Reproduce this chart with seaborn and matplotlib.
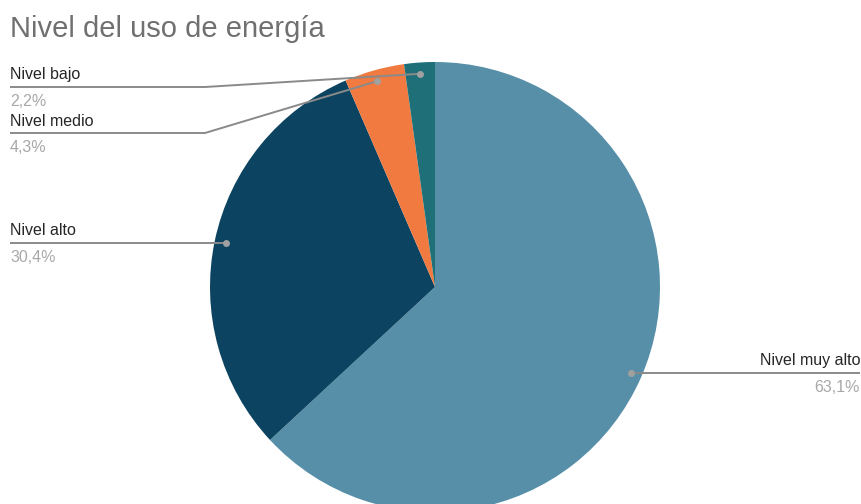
import numpy as np
import matplotlib
matplotlib.use("Agg")
import matplotlib.pyplot as plt
import seaborn as sns

# datos
niveles = ["Nivel muy alto", "Nivel alto", "Nivel medio", "Nivel bajo"]
porcentajes = [63.1, 30.4, 4.3, 2.2]
etiquetas_pct = ["63,1%", "30,4%", "4,3%", "2,2%"]
colores = ["#578fa9", "#0c4360", "#f07a40", "#1e6f78"]

sns.set_theme(style="white")
plt.rcParams["font.family"] = ["Liberation Sans", "DejaVu Sans"]

W, H = 861, 504
fig = plt.figure(figsize=(W / 100, H / 100), dpi=100)
ax = fig.add_axes([0, 0, 1, 1])

cx, cy, rad = 435, H - 287, 225
wedges, _ = ax.pie(porcentajes, colors=sns.color_palette(colores), startangle=90,
                   counterclock=False, center=(cx, cy), radius=rad,
                   wedgeprops=dict(linewidth=0))
ax.set_xlim(0, W)
ax.set_ylim(0, H)
ax.set_aspect("equal")
ax.axis("off")

# posiciones de las etiquetas (x del texto, y de la linea en px desde arriba, codo)
# yl=None -> linea horizontal a la altura del punto
layout = {
    "Nivel muy alto": dict(xt=860, yl=None, ha="right", codo=None),
    "Nivel alto": dict(xt=10, yl=None, ha="left", codo=None),
    "Nivel medio": dict(xt=10, yl=133, ha="left", codo=205),
    "Nivel bajo": dict(xt=10, yl=87, ha="left", codo=205),
}

for w, nombre, pct in zip(wedges, niveles, etiquetas_pct):
    ang = np.deg2rad((w.theta1 + w.theta2) / 2)
    px = cx + 0.95 * rad * np.cos(ang)
    py = cy + 0.95 * rad * np.sin(ang)
    lay = layout[nombre]
    yl = py if lay["yl"] is None else H - lay["yl"]
    if lay["codo"] is None:
        xs, ys = [px, lay["xt"]], [py, yl]
    else:
        xs, ys = [px, lay["codo"], lay["xt"]], [py, yl, yl]
    ax.plot(xs, ys, color="#8a8a8a", lw=1.4, solid_capstyle="butt", zorder=3)
    ax.plot([px], [py], "o", ms=4, color="#a0a0a0", zorder=4)
    ax.text(lay["xt"], yl + 12, nombre, ha=lay["ha"], va="center",
            fontsize=11.5, color="#262626")
    ax.text(lay["xt"], yl - 15, pct, ha=lay["ha"], va="center",
            fontsize=11.5, color="#a8a8a8")

fig.text(10 / W, 1 - 29 / H, "Nivel del uso de energía", ha="left", va="center",
         fontsize=21, color="#707070")

fig.savefig("out.png", dpi=100)
